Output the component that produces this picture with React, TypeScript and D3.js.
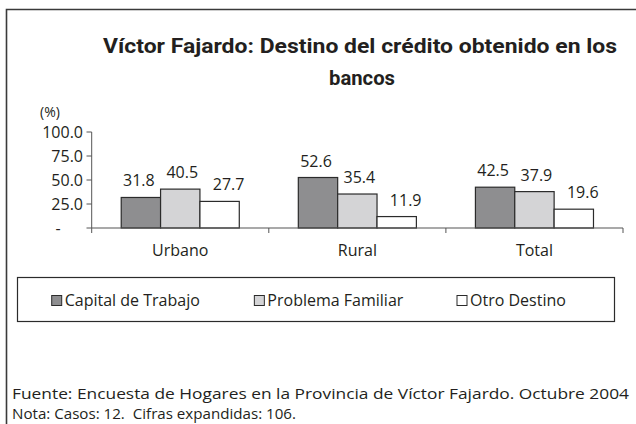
import React from "react";
import * as d3 from "d3";

const categories = ["Urbano", "Rural", "Total"];
const seriesNames = ["Capital de Trabajo", "Problema Familiar", "Otro Destino"];
const capitalTrabajo = [31.8, 52.6, 42.5];
const problemaFamiliar = [40.5, 35.4, 37.9];
const otroDestino = [27.7, 11.9, 19.6];
const yTicks = [0, 25, 50, 75, 100];
const titleLines = ["Víctor Fajardo: Destino del crédito obtenido en los", "bancos"];
const footLines = [
  "Fuente: Encuesta de Hogares en la Provincia de Víctor Fajardo. Octubre 2004",
  "Nota: Casos: 12.  Cifras expandidas: 106.",
];

const seriesValues = [capitalTrabajo, problemaFamiliar, otroDestino];
const colors = ["#8e8e90", "#d4d4d6", "#ffffff"];
const labelDx = [-2, 2, 9];
const FONT = "'Open Sans', 'Noto Sans', sans-serif";

export default function App() {
  const W = 636, H = 424;
  const x0 = d3.scaleBand<string>().domain(categories).range([91.7, 623]).padding(0);
  const bw = x0.bandwidth();
  const x1 = d3.scaleBand<string>().domain(seriesNames).range([bw / 6, (bw * 5) / 6]).padding(0);
  const y = d3.scaleLinear().domain([0, 100]).range([228, 132]);
  const fmt = (v: number) => (v === 0 ? "-" : d3.format(".1f")(v));
  const legendX = d3.scaleLinear().domain([0, 2]).range([51.7, 457]);

  return (
    <svg width={W} height={H} style={{ position: "absolute", left: 0, top: 0, background: "#fff" }}
      fontFamily={FONT}>
      <rect x={0} y={0} width={W} height={H} fill="#fff" />
      {/* frame */}
      <path d={`M6.5,${H} V9.5 H${W}`} fill="none" stroke="#3a3a3a" strokeWidth={1.6} />
      {/* title */}
      <text x={360} y={53} textAnchor="middle" fontFamily="Roboto, sans-serif" fontSize={21} fontWeight={700}
        fill="#231f20" textLength={514} lengthAdjust="spacingAndGlyphs">{titleLines[0]}</text>
      <text x={362} y={85} textAnchor="middle" fontFamily="Roboto, sans-serif" fontSize={21} fontWeight={700}
        fill="#231f20" textLength={66} lengthAdjust="spacingAndGlyphs">{titleLines[1]}</text>
      {/* unit */}
      <text x={40} y={117} fontSize={14} fill="#231f20">(%)</text>
      {/* y axis */}
      <line x1={91.7} x2={91.7} y1={y(100)} y2={y(0)} stroke="#555" strokeWidth={1} />
      {yTicks.map((t) => (
        <g key={t}>
          <line x1={86.5} x2={91.7} y1={y(t)} y2={y(t)} stroke="#555" strokeWidth={1} />
          <text x={t === 0 ? 58 : 83} y={y(t) + 5.5} textAnchor={t === 0 ? "middle" : "end"} fontSize={16}
            fill="#231f20">
            {fmt(t)}
          </text>
        </g>
      ))}
      {/* bars */}
      {categories.map((c, ci) => (
        <g key={c} transform={`translate(${x0(c)},0)`}>
          {seriesNames.map((s, si) => {
            const v = seriesValues[si][ci];
            const bx = x1(s)!;
            return (
              <g key={s}>
                <rect x={bx} y={y(v)} width={x1.bandwidth()} height={y(0) - y(v)}
                  fill={colors[si]} stroke="#2b2b2b" strokeWidth={1.2} />
                <text x={bx + x1.bandwidth() / 2 + labelDx[si]} y={y(v) - 11} textAnchor="middle" fontSize={16}
                  fill="#231f20">{d3.format(".1f")(v)}</text>
              </g>
            );
          })}
          <text x={bw / 2} y={256} textAnchor="middle" fontSize={16} fill="#231f20">{c}</text>
        </g>
      ))}
      {/* x axis */}
      <line x1={91.7} x2={623} y1={y(0)} y2={y(0)} stroke="#555" strokeWidth={1.2} />
      {[0, 1, 2, 3].map((i) => {
        const xx = 91.7 + i * bw;
        return <line key={i} x1={xx} x2={xx} y1={y(0)} y2={y(0) + 5} stroke="#555" strokeWidth={1} />;
      })}
      {/* legend */}
      <rect x={17.5} y={277.5} width={597} height={44} fill="#fff" stroke="#2b2b2b" strokeWidth={1.2} />
      {seriesNames.map((s, i) => {
        const lx = legendX(i);
        return (
          <g key={s}>
            <rect x={lx} y={295.5} width={10} height={10} fill={colors[i]} stroke="#2b2b2b" strokeWidth={1} />
            <text x={lx + 13} y={306} fontSize={16} fill="#231f20">{s}</text>
          </g>
        );
      })}
      {/* footnotes */}
      <text x={12} y={399} fontSize={15} fill="#231f20" textLength={617} lengthAdjust="spacingAndGlyphs">{footLines[0]}</text>
      <text x={12} y={419} fontSize={15} fill="#231f20" textLength={284} lengthAdjust="spacingAndGlyphs"
        style={{ whiteSpace: "pre" }}>{footLines[1]}</text>
    </svg>
  );
}
